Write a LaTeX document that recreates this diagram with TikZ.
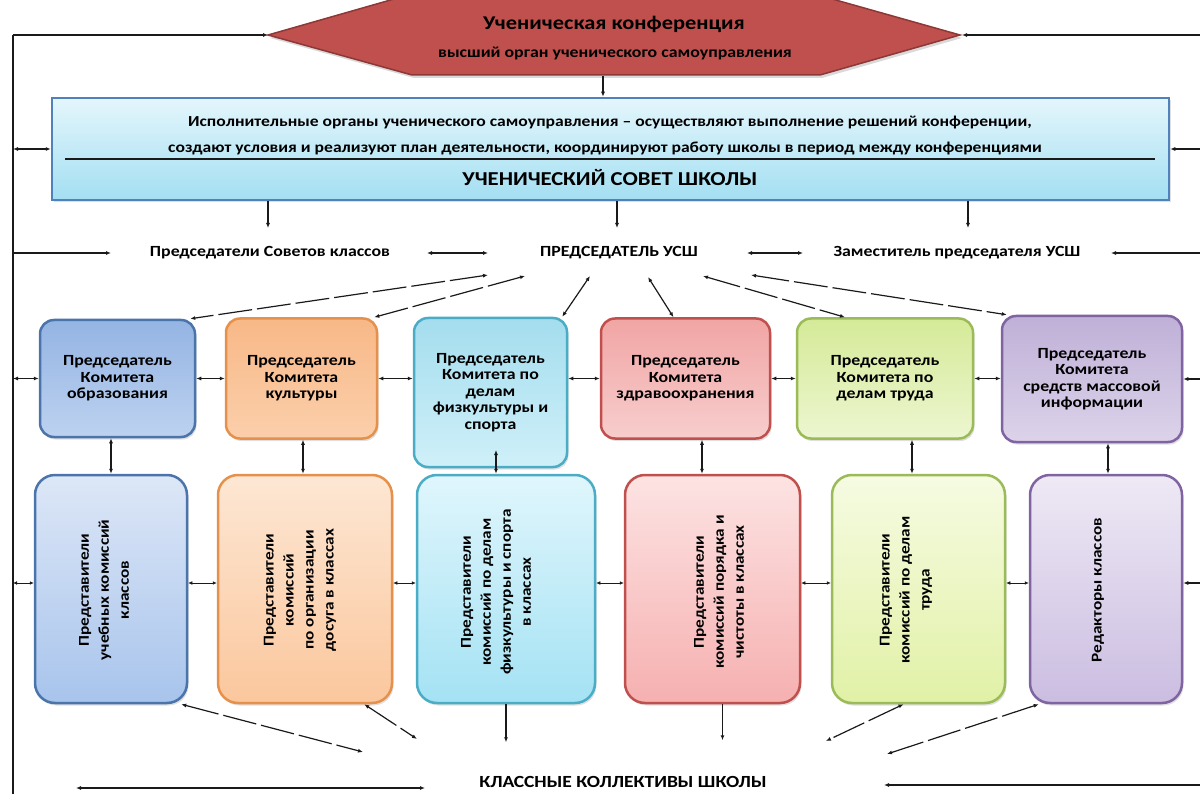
\documentclass[tikz,border=0pt]{standalone}
\usepackage{fontspec}
\setmainfont[FakeStretch=1.15]{Carlito}
\usetikzlibrary{arrows.meta,shadows,calc}
\newcommand{\fsz}[2]{\fontsize{#1}{#2}\selectfont}
\definecolor{hexfill}{HTML}{C0504D}
\definecolor{hexdraw}{HTML}{8C3836}
\definecolor{usbdraw}{HTML}{4F81BD}
\definecolor{usbtop}{HTML}{E4F6FC}
\definecolor{usbbot}{HTML}{A3DFF2}
\definecolor{dA}{HTML}{4A74AA}\definecolor{tA}{HTML}{94B4E3}\definecolor{bA}{HTML}{BDD2F0}
\definecolor{dB}{HTML}{E5914C}\definecolor{tB}{HTML}{F8B887}\definecolor{bB}{HTML}{FBCFAB}
\definecolor{dC}{HTML}{4BACC6}\definecolor{tC}{HTML}{A4DDEE}\definecolor{bC}{HTML}{CFF0F9}
\definecolor{dD}{HTML}{C0504D}\definecolor{tD}{HTML}{F0A5A4}\definecolor{bD}{HTML}{F8CDCD}
\definecolor{dE}{HTML}{9BBB59}\definecolor{tE}{HTML}{D5EA98}\definecolor{bE}{HTML}{EDF6D0}
\definecolor{dF}{HTML}{8064A2}\definecolor{tF}{HTML}{BFB0D7}\definecolor{bF}{HTML}{DCD3EA}
\definecolor{rtA}{HTML}{DDE7F7}\definecolor{rbA}{HTML}{A8C4EC}
\definecolor{rtB}{HTML}{FDE7D4}\definecolor{rbB}{HTML}{FBC79D}
\definecolor{rtC}{HTML}{E0F6FC}\definecolor{rbC}{HTML}{A4E2F4}
\definecolor{rtD}{HTML}{FDE3E3}\definecolor{rbD}{HTML}{F6B0B0}
\definecolor{rtE}{HTML}{F6FBE2}\definecolor{rbE}{HTML}{E1F1A6}
\definecolor{rtF}{HTML}{EEE9F5}\definecolor{rbF}{HTML}{CBBDE1}
\definecolor{ink}{HTML}{1A1A1A}
\begin{document}
\begin{tikzpicture}[x=1pt,y=-1pt,
  ln/.style={line width=1.2pt,draw=ink},
  ar/.style={ln,-{Latex[length=5pt,width=4pt]}},
  ar2/.style={ln,{Latex[length=5pt,width=4pt]}-{Latex[length=5pt,width=4pt]}},
  art/.style={line width=0.5pt,draw=ink,{Latex[length=4pt,width=3.5pt]}-{Latex[length=4pt,width=3.5pt]}},
  dsh/.style={dash pattern=on 34pt off 5pt},
  shd/.style={drop shadow={opacity=0.25,shadow xshift=1.5pt,shadow yshift=-2.5pt}},
  cbox/.style={shd,rounded corners=14pt,line width=2.5pt,align=center,inner sep=0pt,font=\fsz{15.5}{16.5}\bfseries},
  rbox/.style={shd,rounded corners=20pt,line width=2.5pt,inner sep=0pt},
  rtxt/.style={rotate=90,align=center,inner sep=0pt,font=\fsz{15}{20}\bfseries},
  lbl/.style={inner sep=1pt,font=\fsz{15.5}{18}\bfseries}]
\useasboundingbox (0,0) rectangle (1200,794);

% frame coordinates
\coordinate (fT) at (13,35);
\coordinate (fB) at (13,794);
\coordinate (eT) at (1200,35);

% hexagon
\filldraw[fill=hexfill,draw=hexdraw,line width=1.5pt,drop shadow={opacity=0.3,shadow xshift=2pt,shadow yshift=-3pt}]
  (268,35) -- (408,-5) -- (818,-5) -- (960,35) -- (820,75) -- (412,75) -- cycle;
\coordinate (hexL) at (268,35);
\coordinate (hexR) at (962,35);
\coordinate (hexB) at (603,76);
\node[font=\fsz{19.5}{24}\bfseries] (conf1) at (614,24) {Ученическая конференция};
\node[font=\fsz{15.5}{18}\bfseries] (conf2) at (615,53) {высший орган ученического самоуправления};

% blue box
\node[shd,draw=usbdraw,line width=2.5pt,top color=usbtop,bottom color=usbbot,
  minimum width=1117pt,minimum height=102pt,inner sep=0pt] (usb) at (610.5,149) {};
\node[font=\fsz{15.3}{18}\bfseries] (u1) at (610,123) {Исполнительные органы ученического самоуправления – осуществляют выполнение решений конференции,};
\node[font=\fsz{15.3}{18}\bfseries] (u2) at (605,148) {создают условия и реализуют план деятельности, координируют работу школы в период между конференциями};
\draw[line width=1.2pt,ink] (65,159) -- (1155,159);
\node[font=\fsz{19.7}{22}\bfseries] (u3) at (610,178) {УЧЕНИЧЕСКИЙ СОВЕТ ШКОЛЫ};

% row of officers
\node[lbl] (pred) at (270,253) {Председатели Советов классов};
\node[lbl,font=\fsz{15.5}{18}\bfseries] (chair) at (619,253) {ПРЕДСЕДАТЕЛЬ УСШ};
\node[lbl] (dep) at (957,253) {Заместитель председателя УСШ};

% committee chairs
\node[cbox,draw=dA,top color=tA,bottom color=bA,minimum width=155pt,minimum height=117pt] (c1) at (117.5,378.5) {Председатель\\Комитета\\образования};
\node[cbox,draw=dB,top color=tB,bottom color=bB,minimum width=151pt,minimum height=120pt] (c2) at (301.5,378.5) {Председатель\\Комитета\\культуры};
\node[cbox,draw=dC,top color=tC,bottom color=bC,minimum width=153pt,minimum height=149pt] (c3) at (490.5,392.5) {Председатель\\Комитета по\\делам\\физкультуры и\\спорта};
\node[cbox,draw=dD,top color=tD,bottom color=bD,minimum width=169pt,minimum height=120pt] (c4) at (685.5,378.5) {Председатель\\Комитета\\здравоохранения};
\node[cbox,draw=dE,top color=tE,bottom color=bE,minimum width=176pt,minimum height=120pt] (c5) at (885,378.5) {Председатель\\Комитета по\\делам труда};
\node[cbox,draw=dF,top color=tF,bottom color=bF,minimum width=180pt,minimum height=126pt] (c6) at (1092,379) {Председатель\\Комитета\\средств массовой\\информации};

% representatives
\node[rbox,draw=dA,top color=rtA,bottom color=rbA,minimum width=152pt,minimum height=228pt] (r1) at (111,589) {};
\node[rbox,draw=dB,top color=rtB,bottom color=rbB,minimum width=174pt,minimum height=228pt] (r2) at (305,589) {};
\node[rbox,draw=dC,top color=rtC,bottom color=rbC,minimum width=178pt,minimum height=228pt] (r3) at (506,589) {};
\node[rbox,draw=dD,top color=rtD,bottom color=rbD,minimum width=175pt,minimum height=228pt] (r4) at (712.5,589) {};
\node[rbox,draw=dE,top color=rtE,bottom color=rbE,minimum width=173pt,minimum height=228pt] (r5) at (918.5,589) {};
\node[rbox,draw=dF,top color=rtF,bottom color=rbF,minimum width=152pt,minimum height=228pt] (r6) at (1106,589) {};
\node[rtxt] (t1) at (104,590) {Представители\\учебных комиссий\\классов};
\node[rtxt] (t2) at (300,590) {Представители\\комиссий\\по организации\\досуга в классах};
\node[rtxt] (t3) at (496,592) {Представители\\комиссий по делам\\физкультуры и спорта\\в классах};
\node[rtxt] (t4) at (719,592) {Представители\\комиссий порядка и\\чистоты в классах};
\node[rtxt] (t5) at (906,590) {Представители\\комиссий по делам\\труда};
\node[rtxt] (t6) at (1098,590) {Редакторы классов};

\node[font=\fsz{17}{20}\bfseries] (klass) at (623,782) {КЛАССНЫЕ КОЛЛЕКТИВЫ ШКОЛЫ};

% ---- connectors ----
\draw[ln] (fB) -- (fT);
\draw[ar] (fT) -- (hexL);
\draw[ar] (eT) -- (hexR);
\draw[ar] (hexB) -- (hexB |- usb.north);
\draw[ar2] (usb.west -| fT) -- (usb.west);
\draw[ar] (usb.east -| eT) -- (usb.east);

\coordinate (d1) at (268,228);
\coordinate (d2) at (617,228);
\coordinate (d3) at (968,228);
\draw[ar] (usb.south -| d1) -- (d1);
\draw[ar] (usb.south -| d2) -- (d2);
\draw[ar] (usb.south -| d3) -- (d3);

\coordinate (pa) at (111,253);
\coordinate (pb1) at (427,253);
\coordinate (pb2) at (488,253);
\coordinate (pc1) at (747,253);
\coordinate (pc2) at (803,253);
\coordinate (pd) at (1111,253);
\draw[ar] (pa -| fT) -- (pa);
\draw[ar2] (pb1) -- (pb2);
\draw[ar2] (pc1) -- (pc2);
\draw[ar] (pd -| eT) -- (pd);

% diagonals from the chairman
\coordinate (qA) at (488,275);
\coordinate (qB) at (525,276);
\coordinate (qC) at (590,276);
\coordinate (qD) at (648,277);
\coordinate (qE) at (703,276);
\coordinate (qF) at (751,275);
\draw[ar2,dsh] (qA) -- ([xshift=-6pt]c1.north east);
\draw[ar2,dsh] (qB) -- ([xshift=-4pt]c2.north east);
\draw[ar2] (qC) -- ([xshift=-6pt]c3.north east);
\draw[ar2] (qD) -- ([xshift=-12pt]c4.north);
\draw[ar2,dsh] (qE) -- ([xshift=-40pt]c5.north);
\draw[ar2,dsh] (qF) -- ([xshift=6pt]c6.north west);

% row 1 horizontals
\draw[ar2] (c1.west -| fT) -- (c1.west);
\draw[ar2] (c1.east) -- (c2.west);
\draw[ar2] (c2.east) -- (c2.east -| c3.west);
\draw[ar2] (c4.west -| c3.east) -- (c4.west);
\draw[ar2] (c4.east) -- (c5.west);
\draw[ar2] (c5.east) -- (c5.east -| c6.west);
\draw[ar] (c6.east -| eT) -- (c6.east);

% verticals
\coordinate (vx1) at (111,0);
\coordinate (vx2) at (303,0);
\coordinate (v3) at (496,450);
\coordinate (vx4) at (702,0);
\coordinate (vx5) at (912,0);
\coordinate (vx6) at (1108,0);
\draw[ar2] (vx1 |- c1.south) -- (vx1 |- r1.north);
\draw[ar2] (vx2 |- c2.south) -- (vx2 |- r2.north);
\draw[ar2] (v3) -- (v3 |- r3.north);
\draw[ar2] (vx4 |- c4.south) -- (vx4 |- r4.north);
\draw[ar2] (vx5 |- c5.south) -- (vx5 |- r5.north);
\draw[ar2] (vx6 |- c6.south) -- (vx6 |- r6.north);

% row 2 horizontals
\coordinate (h2) at (0,583);
\draw[art] (h2 -| fT) -- (h2 -| r1.west);
\draw[art] (h2 -| r1.east) -- (h2 -| r2.west);
\draw[art] (h2 -| r2.east) -- (h2 -| r3.west);
\draw[art] (h2 -| r3.east) -- (h2 -| r4.west);
\draw[art] (h2 -| r4.east) -- (h2 -| r5.west);
\draw[art] (h2 -| r5.east) -- (h2 -| r6.west);
\draw[ln,-{Latex[length=5pt,width=4pt]}] (h2 -| eT) -- (h2 -| r6.east);

% bottom connectors
\coordinate (gA) at (363,752);
\coordinate (gB) at (417,739);
\coordinate (gK) at (826,741);
\coordinate (gL) at (887,754);
\draw[ar2,dsh] ([xshift=-7pt]r1.south east) -- (gA);
\draw[ar2,dsh] ([xshift=-29pt]r2.south east) -- (gB);
\draw[ar] (r3.south) -- ++(0,38);
\draw[ar] ([xshift=10pt]r4.south) -- ++(0,36);
\draw[ar2,dsh] ([xshift=-15pt]r5.south) -- (gK);
\draw[ar2,dsh] ([xshift=10pt]r6.south west) -- (gL);

\coordinate (bl1) at (76,788);
\coordinate (bl2) at (425,788);
\coordinate (br) at (884,785);
\draw[ar2] (bl1) -- (bl2);
\draw[ar] (br -| eT) -- (br);
\end{tikzpicture}
\end{document}
